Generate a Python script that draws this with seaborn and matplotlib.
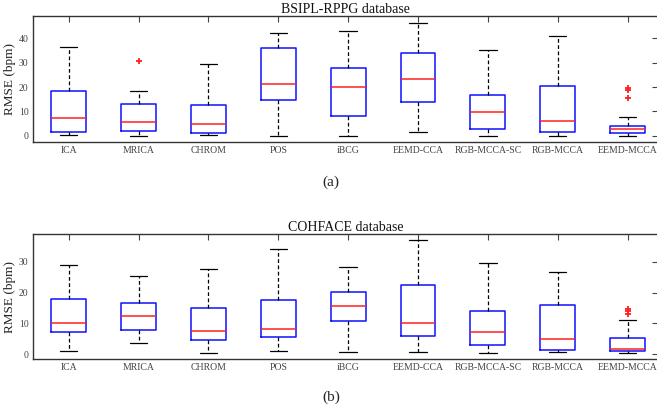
import numpy as np
import pandas as pd
import matplotlib
matplotlib.use("Agg")
import matplotlib.pyplot as plt
import seaborn as sns

methods = ["ICA", "MRICA", "CHROM", "POS", "iBCG", "EEMD-CCA",
           "RGB-MCCA-SC", "RGB-MCCA", "EEMD-MCCA"]

# BSIPL-RPPG database (five-number summaries)
a_low = [0.5, 0.0, 0.5, 0.0, 0.0, 1.6, 0.1, 0.0, 0.0]
a_q1 = [1.8, 1.9, 1.4, 14.8, 8.0, 13.9, 3.0, 1.8, 1.4]
a_med = [7.2, 5.7, 4.8, 21.1, 20.0, 23.3, 9.9, 6.0, 2.7]
a_q3 = [18.2, 13.0, 12.5, 36.0, 27.9, 34.1, 16.9, 20.5, 4.2]
a_high = [36.2, 18.4, 29.3, 42.1, 43.0, 46.3, 35.1, 41.0, 7.7]
a_out_method = ["MRICA", "EEMD-MCCA", "EEMD-MCCA", "EEMD-MCCA"]
a_out_value = [30.5, 19.5, 18.9, 15.4]

# COHFACE database
b_low = [1.0, 3.5, 0.4, 1.0, 0.6, 0.75, 0.4, 0.6, 0.4]
b_q1 = [7.1, 7.8, 4.6, 5.7, 10.9, 5.8, 3.1, 1.5, 1.0]
b_med = [10.3, 12.5, 7.5, 8.3, 15.7, 10.0, 7.2, 5.1, 1.6]
b_q3 = [18.1, 16.5, 14.9, 17.6, 20.1, 22.4, 14.0, 15.9, 5.4]
b_high = [29.1, 25.5, 27.8, 34.1, 28.3, 37.1, 29.7, 26.8, 11.2]
b_out_method = ["EEMD-MCCA", "EEMD-MCCA", "EEMD-MCCA"]
b_out_value = [14.8, 14.2, 13.2]

titles = ["BSIPL-RPPG database", "COHFACE database"]
panel_labels = ["(a)", "(b)"]
ylabel = "RMSE (bpm)"


def make_df(low, q1, med, q3, high):
    rows = []
    for m, *vals in zip(methods, low, q1, med, q3, high):
        for v in vals:
            rows.append({"method": m, "rmse": v})
    return pd.DataFrame(rows)


sns.set_style("white")
plt.rcParams["font.family"] = ["Liberation Serif", "DejaVu Serif"]

fig = plt.figure(figsize=(6.57, 4.13), dpi=100)
ax_a = fig.add_axes([0.050, 0.656, 0.952, 0.305])
ax_b = fig.add_axes([0.050, 0.131, 0.952, 0.302])

panels = [
    (ax_a, make_df(a_low, a_q1, a_med, a_q3, a_high),
     pd.DataFrame({"method": a_out_method, "rmse": a_out_value}),
     (-2.5, 49), [0, 10, 20, 30, 40]),
    (ax_b, make_df(b_low, b_q1, b_med, b_q3, b_high),
     pd.DataFrame({"method": b_out_method, "rmse": b_out_value}),
     (-1.5, 39), [0, 10, 20, 30]),
]

for i, (ax, df, dfo, ylim, yticks) in enumerate(panels):
    sns.boxplot(data=df, x="method", y="rmse", order=methods, ax=ax,
                whis=(0, 100), width=0.5, fill=False, linewidth=1.1,
                boxprops=dict(color="#1010ff"),
                medianprops=dict(color="#ff2020", linewidth=1.1),
                whiskerprops=dict(color="black", linestyle=(0, (3, 2)), linewidth=0.9),
                capprops=dict(color="black", linewidth=0.9))
    sns.stripplot(data=dfo, x="method", y="rmse", order=methods, ax=ax,
                  jitter=False, marker="+", color="#ff2020", size=4,
                  linewidth=1.3)
    ax.set_xlim(-0.514, 8.44)
    ax.set_ylim(*ylim)
    ax.set_yticks(yticks)
    ax.set_xticks(range(len(methods)))
    ax.set_xticklabels(methods)
    ax.set_xlabel("")
    ax.set_ylabel(ylabel, fontsize=9.5, color="#222222", labelpad=2)
    ax.set_title(titles[i], fontsize=10, pad=2, color="#111111")
    ax.tick_params(direction="in", top=True, right=True, labeltop=False,
                   labelright=False, length=4.5, width=0.8, color="#444444",
                   labelsize=7, labelcolor="#444444", pad=3)
    for s in ax.spines.values():
        s.set_color("#333333")
        s.set_linewidth(1.0)
        s.set_visible(True)

fig.text(0.504, 0.559, panel_labels[0], ha="center", va="center", fontsize=11)
fig.text(0.504, 0.039, panel_labels[1], ha="center", va="center", fontsize=11)

fig.savefig("out.png", dpi=100)
